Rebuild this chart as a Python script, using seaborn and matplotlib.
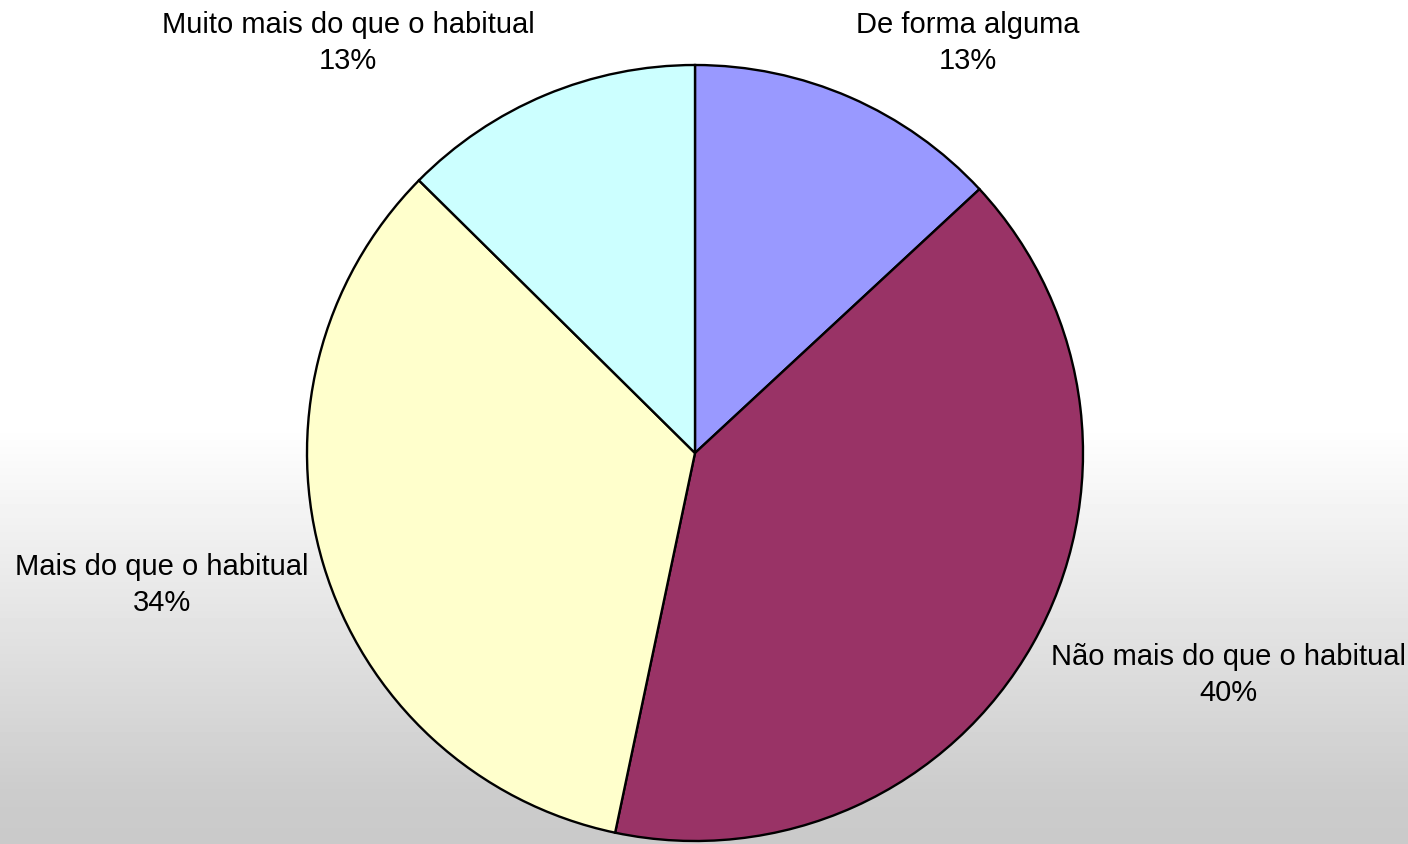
import numpy as np
import matplotlib
matplotlib.use("Agg")
import matplotlib.pyplot as plt
import seaborn as sns

# Data
categories = ["De forma alguma", "Não mais do que o habitual",
              "Mais do que o habitual", "Muito mais do que o habitual"]
percents = [13.1, 40.2, 34.1, 12.6]
colors = ["#9999FF", "#993366", "#FFFFCC", "#CCFFFF"]

# label anchor points (pie radius = 1)
label_pos = [(0.704, 1.057), (1.374, -0.572), (-1.374, -0.340), (-0.894, 1.057)]

sns.set_theme(style="white")
plt.rcParams["font.family"] = ["Liberation Sans", "DejaVu Sans"]

W, H, R = 1408, 844, 388
cx, cy = 695, 453

fig = plt.figure(figsize=(W / 100, H / 100), dpi=100)

# gradient background: white top, grey bottom
bg = fig.add_axes([0, 0, 1, 1])
rows = np.arange(H)
shade = np.interp(rows, [0, 425, 790, H], [1.0, 1.0, 0.80, 0.79])
grad = np.repeat(shade[:, None], 2, axis=1)
bg.imshow(grad, cmap="gray", vmin=0, vmax=1, aspect="auto", extent=[0, 1, 0, 1],
          origin="upper")
bg.set_axis_off()

ax = fig.add_axes([0, 0, 1, 1])
ax.set_facecolor("none")
ax.pie(percents, colors=colors, startangle=90, counterclock=False,
       radius=1, wedgeprops=dict(edgecolor="black", linewidth=1.7))

for cat, pct, (x, y) in zip(categories, percents, label_pos):
    ax.text(x, y, f"{cat}\n{pct:.0f}%", ha="center", va="center",
            fontsize=21, linespacing=1.38, color="black")

ax.set_xlim(-cx / R, (W - cx) / R)
ax.set_ylim(-(H - cy) / R, cy / R)
ax.set_aspect("equal")
ax.set_axis_off()

fig.savefig("out.png", dpi=100)
